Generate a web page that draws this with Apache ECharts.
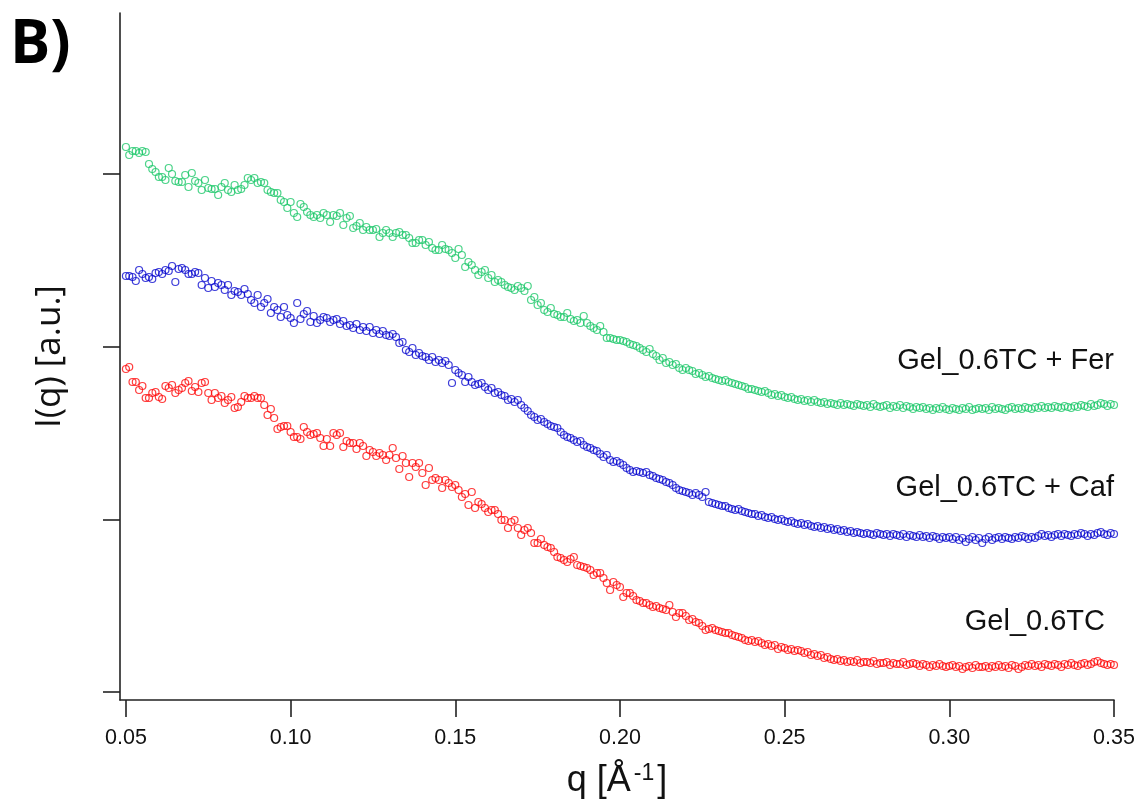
<!DOCTYPE html>
<html><head><meta charset="utf-8">
<script src="https://cdn.jsdelivr.net/npm/echarts@6/dist/echarts.min.js"></script>
<style>html,body{margin:0;padding:0;background:#fff}#c{width:1137px;height:802px}</style>
</head><body><div id="c"></div>
<script>
// q grid of the measurement (Å^-1)
const qStart = 0.050;
const qStep = 0.001;
const xTicks = [0.05, 0.10, 0.15, 0.20, 0.25, 0.30, 0.35];
const yTicks = [8, 180, 353, 526];
const seriesNames = ['Gel_0.6TC', 'Gel_0.6TC + Caf', 'Gel_0.6TC + Fer'];

// I(q) [a.u.], offset curves, one value per q step
const gel = [
331,333,318,318,310,314,302,302,307,308,
303,301,314,312,315,307,310,312,317,319,
309,313,308,317,318,307,300,307,302,304,
297,300,303,292,293,298,304,302,302,304,
302,302,295,285,291,282,271,273,274,274,
268,263,263,261,273,268,265,266,267,262,
254,261,254,267,265,267,253,259,257,257,
251,257,254,244,250,248,244,247,245,240,
245,252,242,231,244,237,223,237,233,237,
227,215,232,220,222,220,212,220,217,213,
215,210,203,206,195,208,192,198,196,192,
188,190,190,186,180,180,172,178,180,172,
165,170,172,167,157,157,161,155,153,152,
148,143,142,140,138,141,143,135,134,133,
132,130,125,127,127,122,117,110,118,115,
113,103,107,107,104,100,99,97,97,95,
93,94,92,91,90,95,88,83,87,87,
84,80,81,78,77,74,70,71,72,70,
69,68,67,67,65,64,63,62,60,59,
60,58,59,57,55,56,54,55,51,53,
52,50,51,49,50,49,47,48,45,46,
44,45,42,43,41,40,41,39,40,38,
39,38,40,37,38,38,37,39,36,37,
37,38,35,37,36,36,38,35,36,37,
36,34,36,35,33,35,34,36,34,33,
34,35,33,34,31,33,34,32,35,33,
33,34,32,34,33,35,33,34,32,35,
34,31,33,35,34,36,34,35,33,36,
35,34,36,35,33,36,35,37,35,34,
36,37,35,36,38,39,37,36,35,36,
35];

const gelCaf = [
424,424,423,419,430,426,422,423,421,427,
428,426,430,429,434,418,431,432,430,426,
426,428,427,415,422,412,419,413,417,415,
410,415,405,409,408,405,411,406,400,397,
405,393,397,401,387,393,390,383,393,385,
382,377,397,381,386,389,378,384,377,380,
383,382,378,380,381,376,379,374,375,372,
376,370,373,369,373,367,370,366,369,365,
364,366,363,357,358,350,348,352,345,347,
344,343,340,343,338,340,337,339,335,317,
330,327,325,318,323,318,315,316,317,313,
310,312,307,308,305,304,300,301,298,300,
295,292,289,285,283,280,281,278,276,274,
273,272,268,265,263,262,260,258,259,255,
253,252,250,249,246,243,245,240,238,239,
237,235,232,230,228,229,228,227,228,225,
224,222,221,220,218,217,215,212,210,209,
208,207,205,207,205,203,208,198,197,196,
195,194,194,192,191,190,191,189,188,187,
186,186,184,185,183,182,183,181,180,181,
179,178,179,177,176,177,175,176,174,173,
174,172,173,171,172,170,171,169,170,168,
169,167,168,167,166,167,166,165,167,166,
165,166,164,166,165,164,166,163,165,164,
163,165,163,164,162,164,163,161,163,162,
163,161,163,160,162,158,161,163,160,162,
157,161,163,160,162,163,161,163,162,161,
163,162,164,163,161,163,162,164,166,164,
165,163,165,166,164,166,165,164,166,165,
167,166,164,166,165,167,168,166,165,167,
166];

const gelFer = [
553,545,549,549,547,549,548,536,531,528,
523,523,520,532,526,519,518,518,525,513,
527,519,517,510,520,512,511,511,505,513,
517,510,508,515,510,511,515,522,520,522,
517,518,517,510,508,507,507,500,498,492,
498,487,483,496,493,488,485,483,485,482,
487,485,478,485,484,487,475,482,484,472,
474,477,470,473,470,470,471,463,467,470,
467,463,467,468,465,465,462,457,457,460,
460,455,458,452,450,450,455,451,450,447,
442,451,445,433,438,435,430,425,428,430,
422,425,418,420,418,415,413,412,410,414,
412,409,414,400,403,395,397,390,388,392,
386,385,383,383,387,381,379,380,377,384,
377,374,372,370,374,368,362,362,361,360,
360,359,358,356,355,354,352,350,348,351,
346,344,340,342,337,338,335,336,332,330,
332,330,329,326,327,325,323,324,322,321,
320,319,320,318,317,316,315,314,313,311,
311,310,309,308,309,307,305,306,304,305,
303,302,303,301,300,301,299,300,298,300,
298,297,298,296,297,296,295,297,295,296,
295,294,296,295,294,295,293,296,294,293,
294,295,292,294,293,295,292,294,293,291,
293,292,293,291,292,290,292,291,293,291,
290,292,291,290,292,291,293,290,291,292,
291,292,290,293,291,292,291,290,292,293,
291,292,291,293,292,291,293,292,294,292,
293,292,294,293,292,294,293,292,294,293,
295,294,293,296,294,295,297,296,294,296,
295];

const colors = ['#ff0d0d', '#0d0dd0', '#1fc86c'];

function pairs(arr) {
  return arr.map((v, i) => [+(qStart + i * qStep).toFixed(3), v]);
}

const chart = echarts.init(document.getElementById('c'), null, { renderer: 'canvas' });
const baseFont = '"Liberation Sans", Arial, Helvetica, sans-serif';

const series = [gel, gelCaf, gelFer].map((d, k) => ({
  name: seriesNames[k],
  type: 'scatter',
  data: pairs(d),
  symbol: 'circle',
  symbolSize: 7,
  itemStyle: { color: 'rgba(0,0,0,0)', borderColor: colors[k], borderWidth: 1.2 },
  emphasis: { disabled: true },
  silent: true
}));

chart.setOption({
  animation: false,
  backgroundColor: '#ffffff',
  grid: { left: 120, right: 23, top: 13, bottom: 102, containLabel: false, outerBoundsMode: 'none' },
  xAxis: {
    type: 'value',
    min: 0.0482,
    max: 0.35,
    splitLine: { show: false },
    axisLine: { show: true, onZero: false, lineStyle: { color: '#222', width: 1.6 } },
    axisTick: { show: true, inside: false, length: 17, customValues: xTicks, lineStyle: { color: '#222', width: 1.6 } },
    axisLabel: {
      show: true, customValues: xTicks, margin: 27,
      formatter: v => v.toFixed(2),
      color: '#111', fontSize: 21.5, fontFamily: baseFont
    },
    name: '{a|q [Å}{s|-1}{a|]}',
    nameLocation: 'middle',
    nameGap: 62,
    nameTextStyle: {
      rich: {
        a: { fontSize: 36, fontFamily: baseFont, color: '#111' },
        s: { fontSize: 23, fontFamily: baseFont, color: '#111', verticalAlign: 'top', padding: [0, 3, 16, 3] }
      }
    }
  },
  yAxis: {
    type: 'value',
    min: 0,
    max: 687,
    splitLine: { show: false },
    axisLine: { show: true, onZero: false, lineStyle: { color: '#222', width: 1.6 } },
    axisTick: { show: true, inside: false, length: 17, customValues: yTicks, lineStyle: { color: '#222', width: 1.6 } },
    axisLabel: { show: false },
    name: 'I(q) [a.u.]',
    nameLocation: 'middle',
    nameGap: 52,
    nameRotate: 90,
    nameTextStyle: { fontSize: 35, fontFamily: '"Open Sans", sans-serif', color: '#111' }
  },
  graphic: [
    { type: 'text', left: 10, top: 16, style: { text: 'B)', font: 'bold 60px "Open Sans", sans-serif', fill: '#000' } },
    { type: 'text', style: { text: seriesNames[2], x: 1114, y: 361, textAlign: 'right', textVerticalAlign: 'middle', font: '29px ' + baseFont, fill: '#111' } },
    { type: 'text', style: { text: seriesNames[1], x: 1114, y: 488, textAlign: 'right', textVerticalAlign: 'middle', font: '29px ' + baseFont, fill: '#111' } },
    { type: 'text', style: { text: seriesNames[0], x: 1105, y: 622, textAlign: 'right', textVerticalAlign: 'middle', font: '29px ' + baseFont, fill: '#111' } }
  ],
  series: series
});
</script>
</body></html>
